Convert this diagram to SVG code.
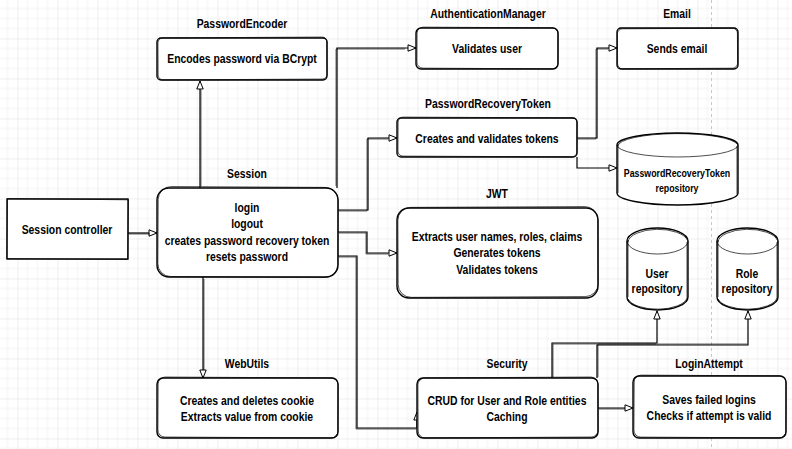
<svg xmlns="http://www.w3.org/2000/svg" width="792" height="449" viewBox="0 0 792 449">
<defs>
<pattern id="grid" x="17.5" y="38.5" width="40" height="40" patternUnits="userSpaceOnUse">
<path d="M10,0V40M20,0V40M30,0V40M0,10H40M0,20H40M0,30H40" stroke="#f2f2f2" stroke-width="1" fill="none"/>
<path d="M0,0V40M0,0H40" stroke="#e0e0e0" stroke-width="1" fill="none"/>
</pattern>
<marker id="arr" markerWidth="10" markerHeight="9" refX="9" refY="4" orient="auto" markerUnits="userSpaceOnUse">
<path d="M1,0.8 L9,4 L1,7.2 Z" fill="#fff" stroke="#000" stroke-width="1"/>
</marker>
<style>
.box{fill:#fff;stroke:#000;stroke-width:1.4}
.sk{fill:none;stroke:#000;stroke-width:0.7}
.t{font-family:"Liberation Sans",Arial,sans-serif;font-weight:bold;font-size:13px;text-anchor:middle;fill:#000}
.ts{font-size:11px}
.c{fill:none;stroke:#000;stroke-width:1.2;marker-end:url(#arr)}
.c2{fill:none;stroke:#000;stroke-width:0.6}
</style>
</defs>
<rect width="792" height="449" fill="#fff"/>
<rect width="792" height="449" fill="url(#grid)"/>
<line x1="711.5" y1="0" x2="711.5" y2="449" stroke="#c8c8c8" stroke-width="1" stroke-dasharray="3,3"/>

<g id="connectors">
<path class="c" d="M128,233 H157"/>
<path class="c" d="M200,188 V81"/>
<path class="c" d="M203,277 V378"/>
<path class="c" d="M337,188 V48 H416"/>
<path class="c" d="M338,210 H368 V138 H397"/>
<path class="c" d="M338,232 H367 V253 H397"/>
<path class="c" d="M338,256 H357 V428 H417 V412"/>
<path class="c" d="M577,138 H597 V48 H617"/>
<path class="c" d="M577,157 V168 H617"/>
<path class="c" d="M552,378 V343 H657 V311"/>
<path class="c" d="M597,378 V345 H748 V311"/>
<path class="c" d="M598,408 H633"/>
<path class="c2" d="M129,234 H150 M201,186 V90 M204,279 V370 M336,186 V49 H405 M339,211 H367 V139 H388 M339,233 H366 V254 H388 M339,257 H356 V429 H416 M578,139 H596 V49 H608 M553,377 V344 H656 M598,377 V344 H747 M599,409 H625"/>
</g>

<g id="session-controller">
<rect class="box" x="7" y="199" width="121" height="60"/>
<path class="sk" d="M7.5,198.5 L128.5,199.8 L127.5,259.5 L6.8,258.6 Z"/>
<text class="t" transform="translate(67 233.5) scale(0.8 1)">Session controller</text>
</g>

<g id="session">
<text class="t" transform="translate(247 178) scale(0.8 1)">Session</text>
<rect class="box" x="157" y="188" width="181" height="89" rx="12"/>
<rect class="sk" x="158" y="187" width="180" height="90" rx="13" transform="rotate(0.3 247 232)"/>
<text class="t" transform="translate(247 211.5) scale(0.8 1)">login</text>
<text class="t" transform="translate(247 228) scale(0.8 1)">logout</text>
<text class="t" transform="translate(247 244.5) scale(0.8 1)">creates password recovery token</text>
<text class="t" transform="translate(247 261) scale(0.8 1)">resets password</text>
</g>

<g id="password-encoder">
<text class="t" transform="translate(242 27.5) scale(0.8 1)">PasswordEncoder</text>
<rect class="box" x="157" y="38" width="170" height="42" rx="4"/>
<rect class="sk" x="158" y="37.5" width="169" height="42" rx="5" transform="rotate(-0.3 242 59)"/>
<text class="t" transform="translate(242 62.5) scale(0.8 1)">Encodes password via BCrypt</text>
</g>

<g id="authentication-manager">
<text class="t" transform="translate(488 17.5) scale(0.8 1)">AuthenticationManager</text>
<rect class="box" x="416" y="28" width="142" height="41" rx="5"/>
<rect class="sk" x="417" y="27.5" width="141" height="41" rx="6" transform="rotate(0.3 487 48)"/>
<text class="t" transform="translate(487 52.5) scale(0.8 1)">Validates user</text>
</g>

<g id="email">
<text class="t" transform="translate(677 17.5) scale(0.8 1)">Email</text>
<rect class="box" x="617" y="28" width="121" height="41" rx="4"/>
<rect class="sk" x="617.5" y="28.5" width="120" height="40" rx="5" transform="rotate(-0.3 677 48)"/>
<text class="t" transform="translate(677 52.5) scale(0.8 1)">Sends email</text>
</g>

<g id="password-recovery-token">
<text class="t" transform="translate(488 107.5) scale(0.8 1)">PasswordRecoveryToken</text>
<rect class="box" x="397" y="118" width="180" height="39" rx="4"/>
<rect class="sk" x="398" y="117.5" width="179" height="39" rx="5" transform="rotate(0.25 487 138)"/>
<text class="t" transform="translate(487 142.5) scale(0.8 1)">Creates and validates tokens</text>
</g>

<g id="password-recovery-token-repository">
<path class="box" d="M617,145 A60.5,12 0 0 1 738,145 V193 A60.5,12 0 0 1 617,193 Z"/>
<path class="sk" d="M617,145 A60.5,12 0 0 0 738,145 M618,146 A60,12.5 0 0 1 737.5,144.5 M737,146 V194 M618,144 V193"/>
<text class="t ts" transform="translate(677 177) scale(0.8 1)">PasswordRecoveryToken</text>
<text class="t ts" transform="translate(677 192) scale(0.8 1)">repository</text>
</g>

<g id="jwt">
<text class="t" transform="translate(497 197.5) scale(0.8 1)">JWT</text>
<rect class="box" x="397" y="208" width="201" height="90" rx="12"/>
<rect class="sk" x="398" y="207" width="200" height="90" rx="13" transform="rotate(-0.25 497 253)"/>
<text class="t" transform="translate(497 240.5) scale(0.8 1)">Extracts user names, roles, claims</text>
<text class="t" transform="translate(497 257) scale(0.8 1)">Generates tokens</text>
<text class="t" transform="translate(497 273.5) scale(0.8 1)">Validates tokens</text>
</g>

<g id="user-repository">
<path class="box" d="M627,241 A30.5,13 0 0 1 688,241 V297 A30.5,13 0 0 1 627,297 Z"/>
<path class="sk" d="M627,241 A30.5,13 0 0 0 688,241 M628,242 A30,13.5 0 0 1 687.5,240.5 M687,242 V298 M628,240 V297 M628,299 A30,13 0 0 0 687,298"/>
<text class="t" transform="translate(657 278) scale(0.8 1)">User</text>
<text class="t" transform="translate(657 293) scale(0.8 1)">repository</text>
</g>

<g id="role-repository">
<path class="box" d="M717,241 A30.5,13 0 0 1 778,241 V297 A30.5,13 0 0 1 717,297 Z"/>
<path class="sk" d="M717,241 A30.5,13 0 0 0 778,241 M718,242 A30,13.5 0 0 1 777.5,240.5 M777,242 V298 M718,240 V297 M718,299 A30,13 0 0 0 777,298"/>
<text class="t" transform="translate(747 278) scale(0.8 1)">Role</text>
<text class="t" transform="translate(747 293) scale(0.8 1)">repository</text>
</g>

<g id="web-utils">
<text class="t" transform="translate(247 367.5) scale(0.8 1)">WebUtils</text>
<rect class="box" x="157" y="378" width="181" height="60" rx="6"/>
<rect class="sk" x="158" y="377.5" width="180" height="60" rx="7" transform="rotate(0.3 247 408)"/>
<text class="t" transform="translate(247 404.5) scale(0.8 1)">Creates and deletes cookie</text>
<text class="t" transform="translate(247 421) scale(0.8 1)">Extracts value from cookie</text>
</g>

<g id="security">
<text class="t" transform="translate(507 367.5) scale(0.8 1)">Security</text>
<rect class="box" x="417" y="378" width="181" height="60" rx="6"/>
<rect class="sk" x="418" y="377.5" width="180" height="60" rx="7" transform="rotate(-0.3 507 408)"/>
<text class="t" transform="translate(507 404.5) scale(0.8 1)">CRUD for User and Role entities</text>
<text class="t" transform="translate(507 421) scale(0.8 1)">Caching</text>
</g>

<g id="login-attempt">
<text class="t" transform="translate(709 367.5) scale(0.8 1)">LoginAttempt</text>
<rect class="box" x="633" y="376" width="153" height="62" rx="6"/>
<rect class="sk" x="634" y="375.5" width="152" height="62" rx="7" transform="rotate(0.3 709 407)"/>
<text class="t" transform="translate(709 403.5) scale(0.8 1)">Saves failed logins</text>
<text class="t" transform="translate(709 420) scale(0.8 1)">Checks if attempt is valid</text>
</g>
</svg>
